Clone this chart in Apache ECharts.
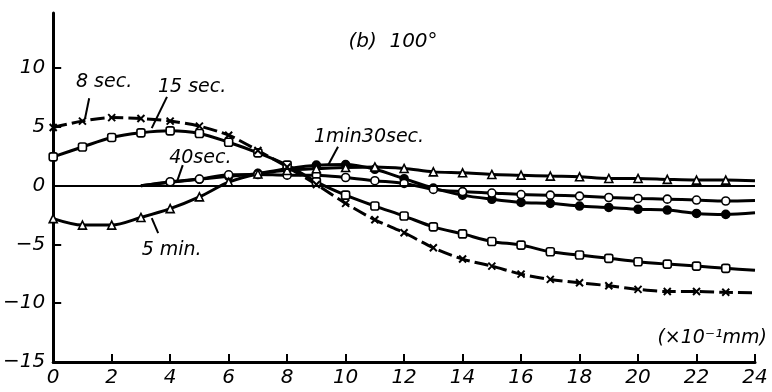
<!DOCTYPE html>
<html><head><meta charset="utf-8">
<script src="https://cdn.jsdelivr.net/npm/echarts@6/dist/echarts.min.js"></script>
<style>html,body{margin:0;padding:0;background:#fff}#c{width:772px;height:392px}</style>
</head><body><div id="c"></div>
<script>
const xTicks = ['0','2','4','6','8','10','12','14','16','18','20','22','24'];
const yTicks = [-15, -10, -5, 0, 5, 10];
const yTickLabels = ['\u221215', '\u221210', '\u22125', '0', '5', '10'];
const xs = [0,1,2,3,4,5,6,7,8,9,10,11,12,13,14,15,16,17,18,19,20,21,22,23];
const sec8  = [4.96,5.5,5.8,5.72,5.5,5.07,4.3,3.0,1.6,0.1,-1.5,-2.9,-4.0,-5.28,-6.24,-6.84,-7.52,-7.97,-8.26,-8.51,-8.82,-9.0,-9.0,-9.07];
const sec8End = -9.1;
const sec15 = [2.46,3.3,4.1,4.5,4.67,4.45,3.7,2.8,1.75,0.33,-0.8,-1.73,-2.58,-3.5,-4.1,-4.74,-5.05,-5.62,-5.9,-6.18,-6.47,-6.67,-6.84,-7.03];
const sec15End = -7.2;
const sec40X = [3,4,5,6,7,8,9,10,11,12,13,14,15,16,17,18,19,20,21,22,23];
const sec40 = [0,0.34,0.57,0.93,0.95,0.9,0.9,0.7,0.43,0.2,-0.31,-0.5,-0.62,-0.75,-0.8,-0.88,-1.0,-1.08,-1.14,-1.22,-1.3];
const sec40End = -1.25;
const min1s30X = [3,4,5,6,7,8,9,10,11,12,13,14,15,16,17,18,19,20,21,22,23];
const min1s30 = [0,0.3,0.55,0.8,1.05,1.45,1.75,1.8,1.4,0.6,-0.2,-0.8,-1.15,-1.42,-1.5,-1.73,-1.85,-2.0,-2.07,-2.36,-2.44];
const min1s30End = -2.3;
const min5 = [-2.8,-3.35,-3.35,-2.7,-1.95,-0.95,0.3,1.0,1.3,1.45,1.55,1.6,1.47,1.18,1.1,0.96,0.9,0.82,0.76,0.62,0.62,0.54,0.48,0.48];
const min5End = 0.42;

// annotations: [text, textX, textY, leaderFrom(x,y), leaderTo(x,y)]
const labels = [
  ['8 sec.', 1.74, 8.8, [1.23, 7.45], [1.09, 5.74]],
  ['15 sec.', 4.75, 8.4, [3.89, 7.56], [3.37, 4.9]],
  ['40sec.', 5.03, 2.35, [4.43, 1.75], [4.23, 0.33]],
  ['1min30sec.', 10.8, 4.13, [9.74, 3.31], [9.4, 1.75]],
  ['5 min.', 4.05, -5.48, [3.59, -4.03], [3.37, -2.76]]
];
const titleText = '(b)  100\u00b0';
const unitText = '(\u00d710\u207b\u00b9mm)';

const FONT = 'DejaVu Sans';
function pts(xv, yv, endV) {
  const d = xv.map((x, i) => (x === 3 && xv[0] === 3) ? { value: [x, yv[i]], symbol: 'none' } : [x, yv[i]]);
  d.push({ value: [24, endV], symbol: 'none' });
  return d;
}
function ser(name, data, symbol, size, fill, dashed, extra) {
  return Object.assign({
    name, type: 'line', data, symbol, symbolSize: size, smooth: 0.3,
    lineStyle: { color: '#000', width: 3, type: dashed ? [14, 5] : 'solid' },
    itemStyle: { color: fill, borderColor: '#000', borderWidth: 1.6 },
    emphasis: { disabled: true }, animation: false
  }, extra || {});
}
const chart = echarts.init(document.getElementById('c'), null, { renderer: 'canvas' });
chart.setOption({
  backgroundColor: '#fff',
  animation: false,
  grid: { left: 53, right: 17, top: 13, bottom: 30, containLabel: false },
  xAxis: {
    type: 'value', min: 0, max: 24, interval: 2,
    axisLine: { onZero: false, lineStyle: { color: '#000', width: 3 } },
    axisTick: { inside: true, length: 8, lineStyle: { color: '#000', width: 2 } },
    axisLabel: { color: '#000', fontSize: 20, fontStyle: 'italic', fontFamily: FONT, margin: 6,
      formatter: v => xTicks[Math.round(v / 2)] },
    splitLine: { show: false }
  },
  yAxis: {
    type: 'value', min: -15, max: 14.7,
    axisLine: { show: true, onZero: false, lineStyle: { color: '#000', width: 3 } },
    axisTick: { show: true, inside: true, length: 8, customValues: yTicks, lineStyle: { color: '#000', width: 2 } },
    axisLabel: { color: '#000', fontSize: 20, fontStyle: 'italic', fontFamily: FONT, margin: 8,
      customValues: yTicks, formatter: v => yTickLabels[yTicks.indexOf(v)] },
    splitLine: { show: false }
  },
  series: [
    ser('1min30sec', pts(min1s30X, min1s30, min1s30End), 'circle', 8, '#000', false, {
      markLine: { silent: true, symbol: 'none', label: { show: false },
        lineStyle: { color: '#000', width: 2, type: 'solid' }, data: [{ yAxis: 0 }] }
    }),
    ser('40sec', pts(sec40X, sec40, sec40End), 'circle', 8, '#fff', false),
    ser('5min', pts(xs, min5, min5End), 'triangle', 8, '#fff', false),
    ser('15sec', pts(xs, sec15, sec15End), 'roundRect', 8, '#fff', false),
    ser('8sec', pts(xs, sec8, sec8End), 'path://M0,0L10,10M10,0L0,10', 7, 'none', true,
      { itemStyle: { color: 'none', borderColor: '#000', borderWidth: 2 } })
  ]
});
function px(p) { return chart.convertToPixel({ gridIndex: 0 }, p); }
const g = [];
labels.forEach(l => {
  const t = px([l[1], l[2]]);
  g.push({ type: 'text', x: t[0], y: t[1], style: { text: l[0], fill: '#000', fontSize: 19,
    fontStyle: 'italic', fontFamily: FONT, align: 'center', verticalAlign: 'middle' } });
  const a = px(l[3]), b = px(l[4]);
  g.push({ type: 'line', shape: { x1: a[0], y1: a[1], x2: b[0], y2: b[1] }, style: { stroke: '#000', lineWidth: 2 } });
});
g.push({ type: 'text', x: 393, y: 42, style: { text: titleText, fill: '#000', fontSize: 20, fontStyle: 'italic',
  fontFamily: FONT, align: 'center', verticalAlign: 'middle' } });
g.push({ type: 'text', x: 767, y: 338, style: { text: unitText, fill: '#000', fontSize: 19, fontStyle: 'italic',
  fontFamily: FONT, align: 'right', verticalAlign: 'middle' } });
chart.setOption({ graphic: g });
</script></body></html>
